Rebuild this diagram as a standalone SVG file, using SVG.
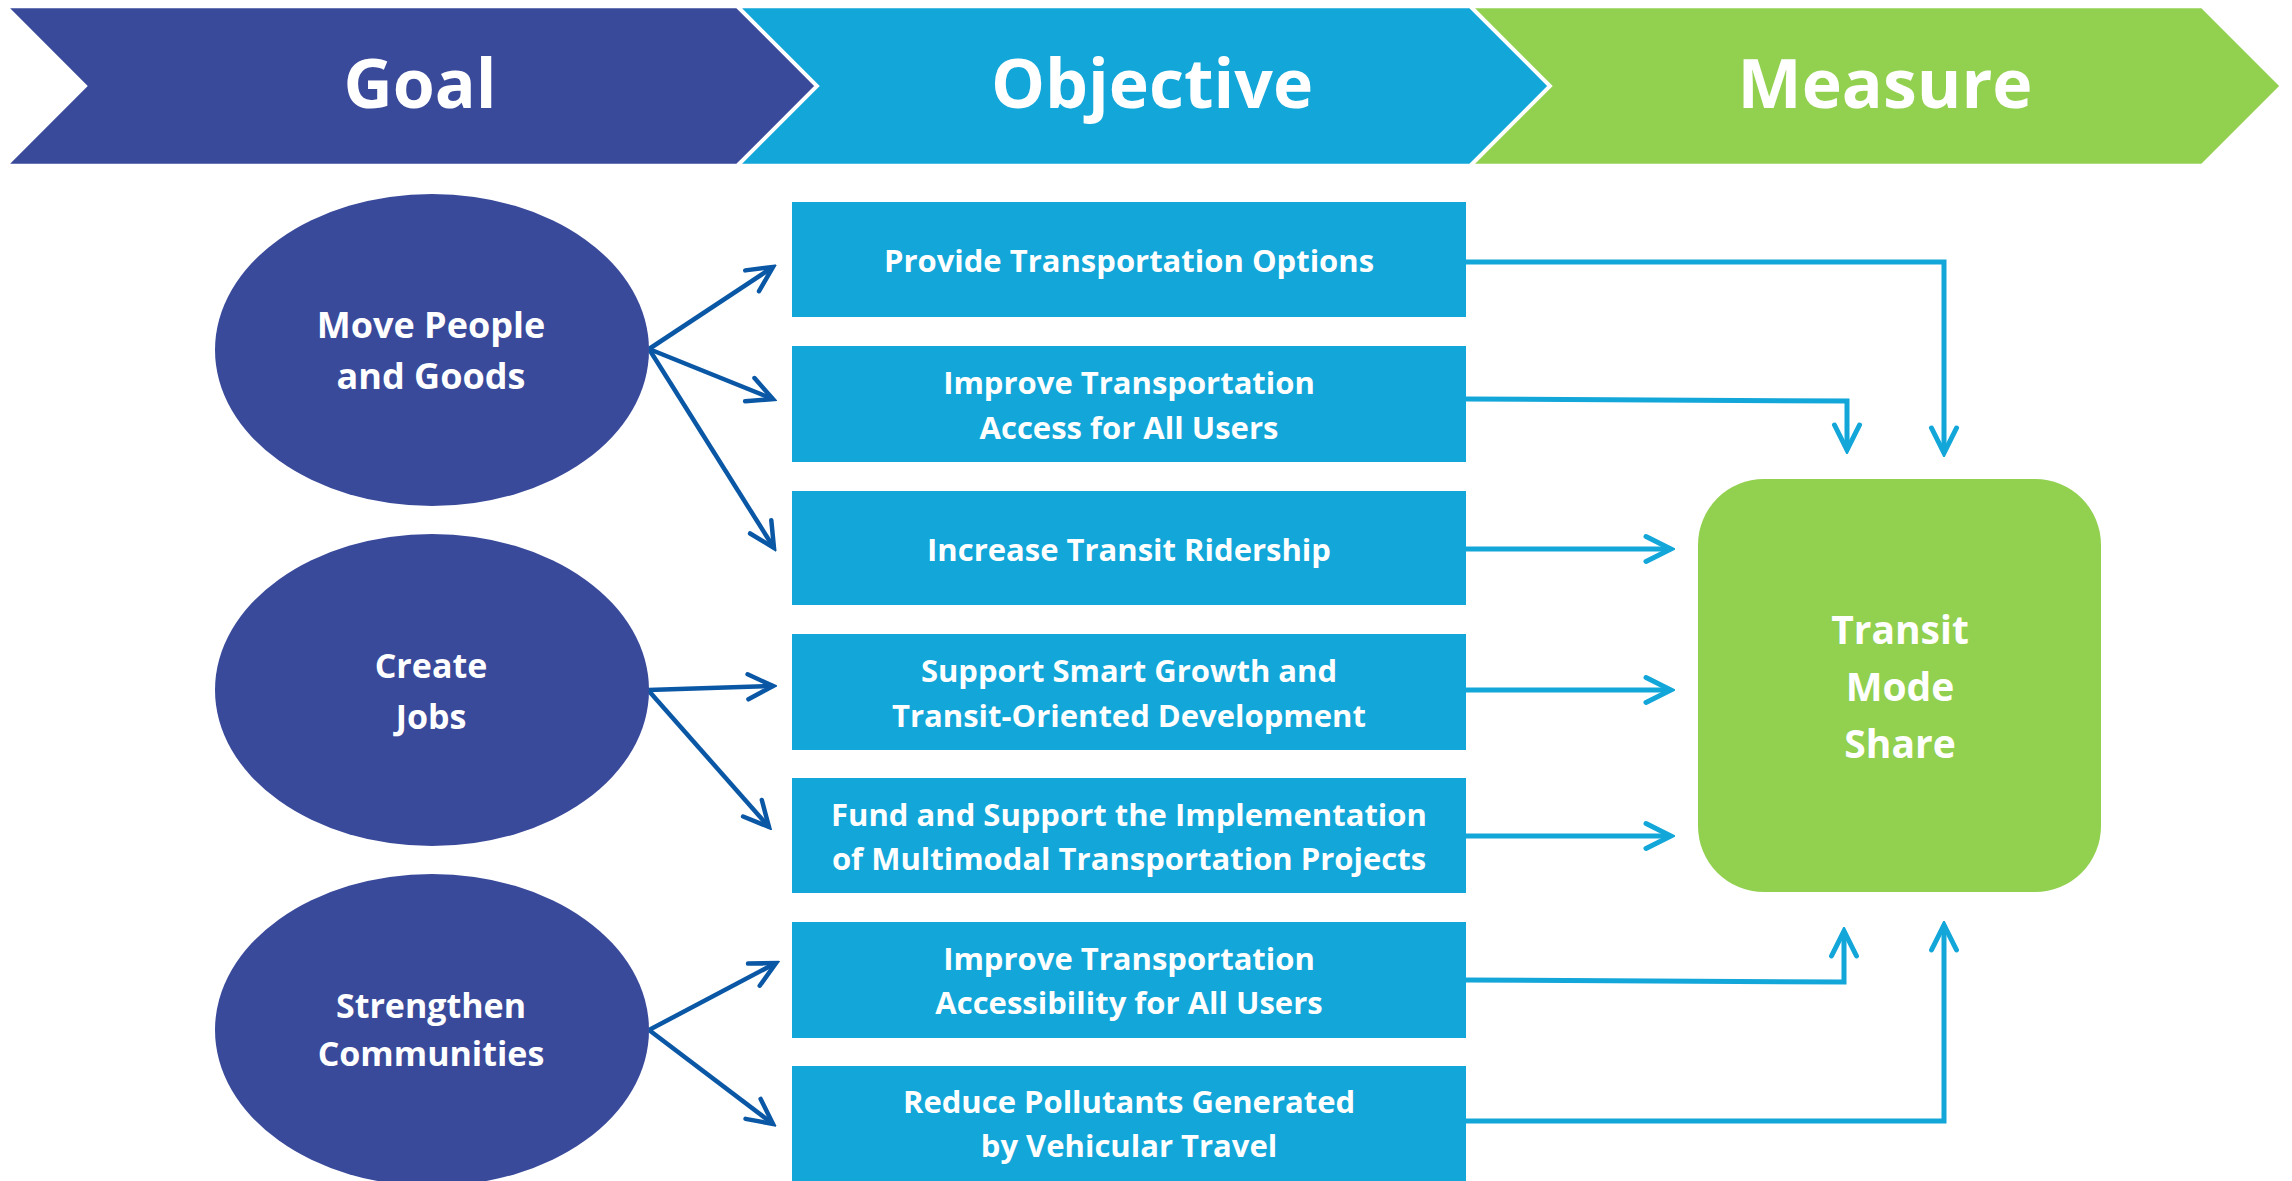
<svg xmlns="http://www.w3.org/2000/svg" width="2292" height="1181" viewBox="0 0 2292 1181">
<style>
.chev{stroke:#fff;stroke-width:2.5;stroke-linejoin:miter}
.hdr{font-family:"Open Sans","Noto Sans",sans-serif;font-weight:700;font-size:68px;fill:#fff;text-anchor:middle}
.goal{fill:#3A4A9B}
.gtx{font-family:"Open Sans","Noto Sans",sans-serif;font-weight:700;font-size:34px;fill:#fff;text-anchor:middle}
.gtx36{font-size:36px}
.obj{fill:#12A6D9}
.otx{font-family:"Open Sans","Noto Sans",sans-serif;font-weight:700;font-size:31px;fill:#fff;text-anchor:middle}
.meas{fill:#92D050}
.mtx{font-family:"Open Sans","Noto Sans",sans-serif;font-weight:700;font-size:39px;fill:#fff;text-anchor:middle}
.dk{fill:none;stroke:#0A57A5;stroke-width:4.5;marker-end:url(#ahd)}
.lt{fill:none;stroke:#12A6D9;stroke-width:5;marker-end:url(#ahl)}
</style>
<defs>
<marker id="ahd" viewBox="-30 -16 34 32" refX="0" refY="0" markerWidth="34" markerHeight="32" markerUnits="userSpaceOnUse" orient="auto">
<path d="M-25,-12.5 L0,0 L-25,12.5" fill="none" stroke="#0A57A5" stroke-width="4.5" stroke-linecap="round" stroke-linejoin="miter"/>
</marker>
<marker id="ahl" viewBox="-30 -16 34 32" refX="0" refY="0" markerWidth="34" markerHeight="32" markerUnits="userSpaceOnUse" orient="auto">
<path d="M-25,-12.5 L0,0 L-25,12.5" fill="none" stroke="#12A6D9" stroke-width="5" stroke-linecap="round" stroke-linejoin="miter"/>
</marker>
</defs>
<rect width="2292" height="1181" fill="#fff"/>
<g id="header">
<g id="hdr-goal"><path class="chev goal" d="M7,7 L737,7 L816,86 L737,165 L7,165 L86,86 Z"/><text class="hdr" x="420" y="108">Goal</text></g>
<g id="hdr-objective"><path class="chev obj" d="M739,7 L1470,7 L1549,86 L1470,165 L739,165 L818,86 Z"/><text class="hdr" x="1152" y="108">Objective</text></g>
<g id="hdr-measure"><path class="chev meas" d="M1472,7 L2202,7 L2281,86 L2202,165 L1472,165 L1551,86 Z"/><text class="hdr" x="1885" y="108">Measure</text></g>
</g>
<g id="connectors">
<path class="dk" d="M649,349 L773,267"/>
<path class="dk" d="M649,349 L773,399"/>
<path class="dk" d="M649,349 L774,548"/>
<path class="dk" d="M648,690 L773,686"/>
<path class="dk" d="M648,690 L769,827"/>
<path class="dk" d="M649,1030 L776,963"/>
<path class="dk" d="M649,1030 L773,1124"/>
<path class="lt" d="M1466,262 H1944 V453"/>
<path class="lt" d="M1466,399 L1847,401 V450"/>
<path class="lt" d="M1466,549 H1671"/>
<path class="lt" d="M1466,690 H1671"/>
<path class="lt" d="M1466,836 H1671"/>
<path class="lt" d="M1466,980 L1844,982 V931"/>
<path class="lt" d="M1466,1121 H1944 V925"/>
</g>
<g id="goal-move">
<ellipse class="goal" cx="432" cy="350" rx="217" ry="156"/>
<text class="gtx gtx36" x="431" y="338">Move People</text>
<text class="gtx gtx36" x="431" y="389">and Goods</text>
</g>
<g id="goal-jobs">
<ellipse class="goal" cx="432" cy="690" rx="217" ry="156"/>
<text class="gtx" x="431" y="678">Create</text>
<text class="gtx" x="431" y="729">Jobs</text>
</g>
<g id="goal-communities">
<ellipse class="goal" cx="432" cy="1030" rx="217" ry="156"/>
<text class="gtx" x="431" y="1018">Strengthen</text>
<text class="gtx" x="431" y="1066">Communities</text>
</g>
<g id="obj-1"><rect class="obj" x="792" y="202" width="674" height="115"/><text class="otx" x="1129" y="272">Provide Transportation Options</text></g>
<g id="obj-2"><rect class="obj" x="792" y="346" width="674" height="116"/><text class="otx" x="1129" y="394">Improve Transportation</text><text class="otx" x="1129" y="439">Access for All Users</text></g>
<g id="obj-3"><rect class="obj" x="792" y="491" width="674" height="114"/><text class="otx" x="1129" y="561">Increase Transit Ridership</text></g>
<g id="obj-4"><rect class="obj" x="792" y="634" width="674" height="116"/><text class="otx" x="1129" y="682">Support Smart Growth and</text><text class="otx" x="1129" y="727">Transit-Oriented Development</text></g>
<g id="obj-5"><rect class="obj" x="792" y="778" width="674" height="115"/><text class="otx" x="1129" y="826">Fund and Support the Implementation</text><text class="otx" x="1129" y="870">of Multimodal Transportation Projects</text></g>
<g id="obj-6"><rect class="obj" x="792" y="922" width="674" height="116"/><text class="otx" x="1129" y="970">Improve Transportation</text><text class="otx" x="1129" y="1014">Accessibility for All Users</text></g>
<g id="obj-7"><rect class="obj" x="792" y="1066" width="674" height="120"/><text class="otx" x="1129" y="1113">Reduce Pollutants Generated</text><text class="otx" x="1129" y="1157">by Vehicular Travel</text></g>
<g id="measure-transit">
<rect class="meas" x="1698" y="479" width="403" height="413" rx="66" ry="66"/>
<text class="mtx" x="1900" y="644">Transit</text>
<text class="mtx" x="1900" y="701">Mode</text>
<text class="mtx" x="1900" y="758">Share</text>
</g>
</svg>
